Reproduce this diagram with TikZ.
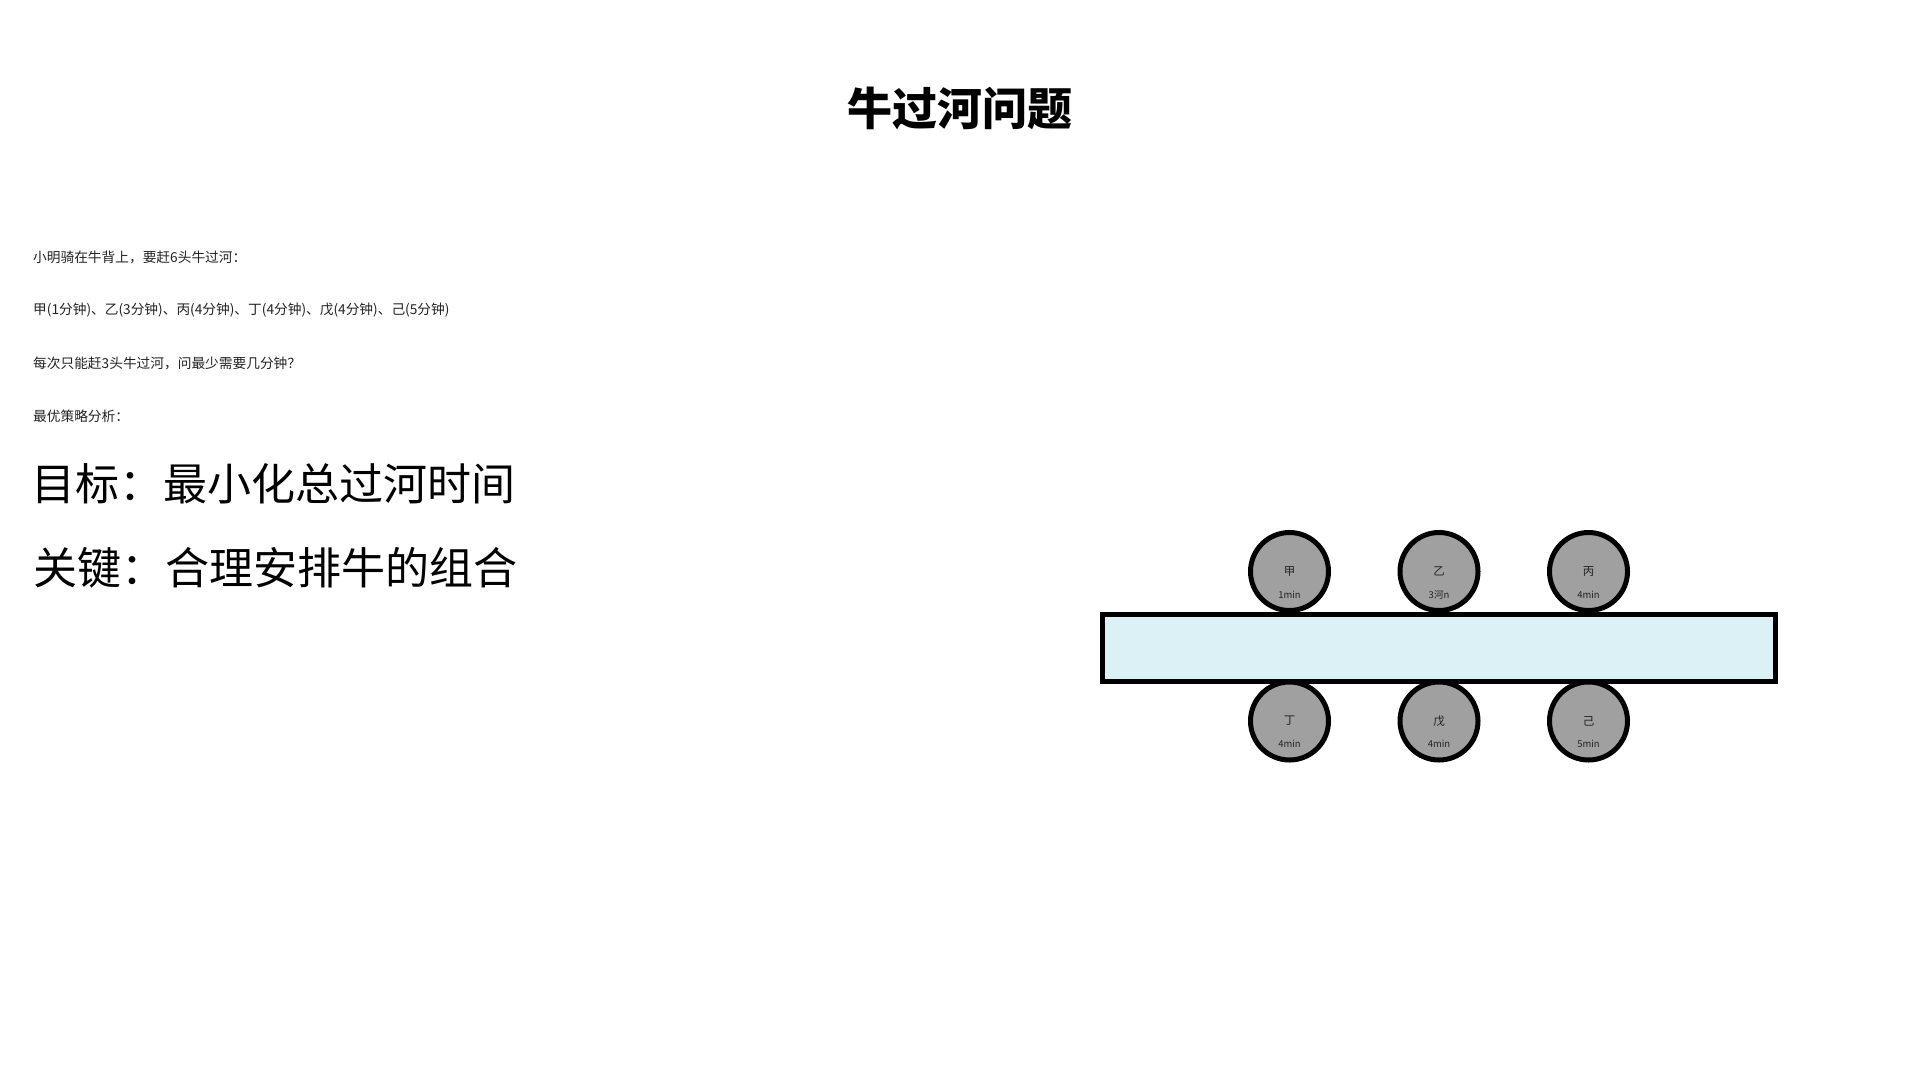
\documentclass[tikz,border=0pt]{standalone}
\usepackage{fontspec}
\setmainfont{Noto Sans CJK SC}
\usepackage{tikz}

\definecolor{rivercol}{HTML}{DCF1F6}
\definecolor{cowcol}{HTML}{A0A0A0}
\definecolor{txtcol}{HTML}{222222}

\tikzset{
  cow/.style={draw, circle, line width=5pt, fill=cowcol, minimum size=78pt, inner sep=0pt},
  cowname/.style={font=\fontsize{11.5}{12}\selectfont, text=txtcol, inner sep=0pt},
  cowtime/.style={font=\fontsize{9.5}{10}\selectfont, text=txtcol, inner sep=0pt},
  infotext/.style={anchor=west, font=\fontsize{13.7}{15}\selectfont, text=txtcol, inner sep=0pt},
  bigtext/.style={anchor=west, font=\fontsize{44}{48}\selectfont, inner sep=0pt}
}

\begin{document}
\begin{tikzpicture}[x=1pt, y=-1pt]
\useasboundingbox (0,0) rectangle (1920,1080);

% Title
\node[font=\bfseries\fontsize{45}{50}\selectfont, inner sep=0pt] (title) at (960,108) {牛过河问题};

% Problem text
\node[infotext] (line1) at (33,257) {小明骑在牛背上，要赶6头牛过河：};
\node[infotext] (line2) at (33,310) {甲(1分钟)、乙(3分钟)、丙(4分钟)、丁(4分钟)、戊(4分钟)、己(5分钟)};
\node[infotext] (line3) at (33,363) {每次只能赶3头牛过河，问最少需要几分钟？};
\node[infotext] (line4) at (33,416) {最优策略分析：};

\node[bigtext] (goal) at (31,484) {目标：最小化总过河时间};
\node[bigtext] (key) at (33,568) {关键：合理安排牛的组合};

% River
\node[draw, rectangle, line width=5pt, fill=rivercol, minimum width=673pt, minimum height=67pt] (river) at (1439,648) {};

% Cows on the near bank
\node[cow] (jia) at (1289.5,571.5) {};
\node[cow] (yi) at (1439,571.5) {};
\node[cow] (bing) at (1588.5,571.5) {};

% Cows on the far bank
\node[cow] (ding) at (1289.5,721) {};
\node[cow] (wu) at (1439,721) {};
\node[cow] (ji) at (1588.5,721) {};

% Names and times
\node[cowname] at (jia) {甲};
\node[cowtime] at ([yshift=-23pt]jia.center) {1min};
\node[cowname] at (yi) {乙};
\node[cowtime] at ([yshift=-23pt]yi.center) {3河n};
\node[cowname] at (bing) {丙};
\node[cowtime] at ([yshift=-23pt]bing.center) {4min};
\node[cowname] at (ding) {丁};
\node[cowtime] at ([yshift=-23pt]ding.center) {4min};
\node[cowname] at (wu) {戊};
\node[cowtime] at ([yshift=-23pt]wu.center) {4min};
\node[cowname] at (ji) {己};
\node[cowtime] at ([yshift=-23pt]ji.center) {5min};

\end{tikzpicture}
\end{document}
